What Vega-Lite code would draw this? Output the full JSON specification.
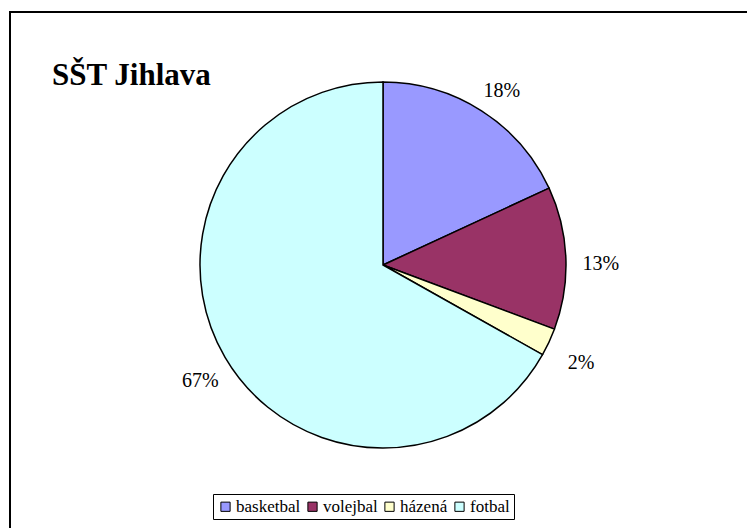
{
  "$schema": "https://vega.github.io/schema/vega-lite/v6.json",
  "autosize": {"type": "none"},
  "width": 737,
  "height": 516,
  "padding": {"left": 10, "top": 12, "right": 0, "bottom": 0},
  "background": "white",
  "config": {
    "view": {"stroke": null},
    "font": "Liberation Serif",
    "text": {"font": "Liberation Serif"},
    "legend": {"labelFont": "Liberation Serif"},
    "style": {
      "guide-label": {"font": "Liberation Serif"},
      "group-title": {"font": "Liberation Serif"}
    }
  },
  "title": {
    "text": "SŠT Jihlava",
    "anchor": "start",
    "frame": "group",
    "orient": "top",
    "offset": 0,
    "dx": 42,
    "dy": 105,
    "baseline": "alphabetic",
    "font": "Liberation Serif",
    "fontSize": 31,
    "fontWeight": "bold",
    "color": "black"
  },
  "layer": [
    {
      "data": {"values": [{"frame": 1}]},
      "mark": {"type": "rect", "fill": null, "stroke": "black", "strokeWidth": 2, "clip": false},
      "encoding": {
        "x": {"datum": 0, "type": "quantitative", "scale": {"domain": [0, 1]}, "axis": null},
        "x2": {"datum": 1.1},
        "y": {"datum": 1, "type": "quantitative", "scale": {"domain": [0, 1]}, "axis": null},
        "y2": {"datum": -0.1}
      }
    },
    {
      "data": {
        "values": [
          {"sport": "basketbal", "value": 18.1, "label": "18%", "idx": 1},
          {"sport": "volejbal", "value": 12.6, "label": "13%", "idx": 2},
          {"sport": "házená", "value": 2.45, "label": "2%", "idx": 3},
          {"sport": "fotbal", "value": 66.85, "label": "67%", "idx": 4}
        ]
      },
      "encoding": {
        "theta": {"field": "value", "type": "quantitative", "stack": true},
        "order": {"field": "idx", "type": "quantitative"}
      },
      "layer": [
        {
          "mark": {"type": "arc", "outerRadius": 183, "stroke": "black", "strokeWidth": 1.5, "xOffset": 4.5, "yOffset": -5},
          "encoding": {
            "color": {
              "field": "sport",
              "type": "nominal",
              "scale": {
                "domain": ["basketbal", "volejbal", "házená", "fotbal"],
                "range": ["#9999FF", "#993366", "#FFFFCC", "#CCFFFF"]
              },
              "legend": {
                "title": null,
                "orient": "none",
                "direction": "horizontal",
                "legendX": 203,
                "legendY": 482,
                "strokeColor": "black",
                "padding": 4,
                "symbolType": "square",
                "symbolSize": 85,
                "symbolStrokeColor": "black",
                "symbolStrokeWidth": 1,
                "symbolOpacity": 1,
                "labelFont": "Liberation Serif",
                "labelFontSize": 17,
                "labelColor": "black",
                "labelOffset": 2,
                "columnPadding": 3,
                "symbolOffset": 0
              }
            }
          }
        },
        {
          "mark": {"type": "text", "radius": 215, "xOffset": 7.5, "yOffset": 2, "font": "Liberation Serif", "fontSize": 20, "color": "black", "align": "center", "baseline": "middle"},
          "encoding": {
            "text": {"field": "label", "type": "nominal"}
          }
        }
      ]
    }
  ]
}
